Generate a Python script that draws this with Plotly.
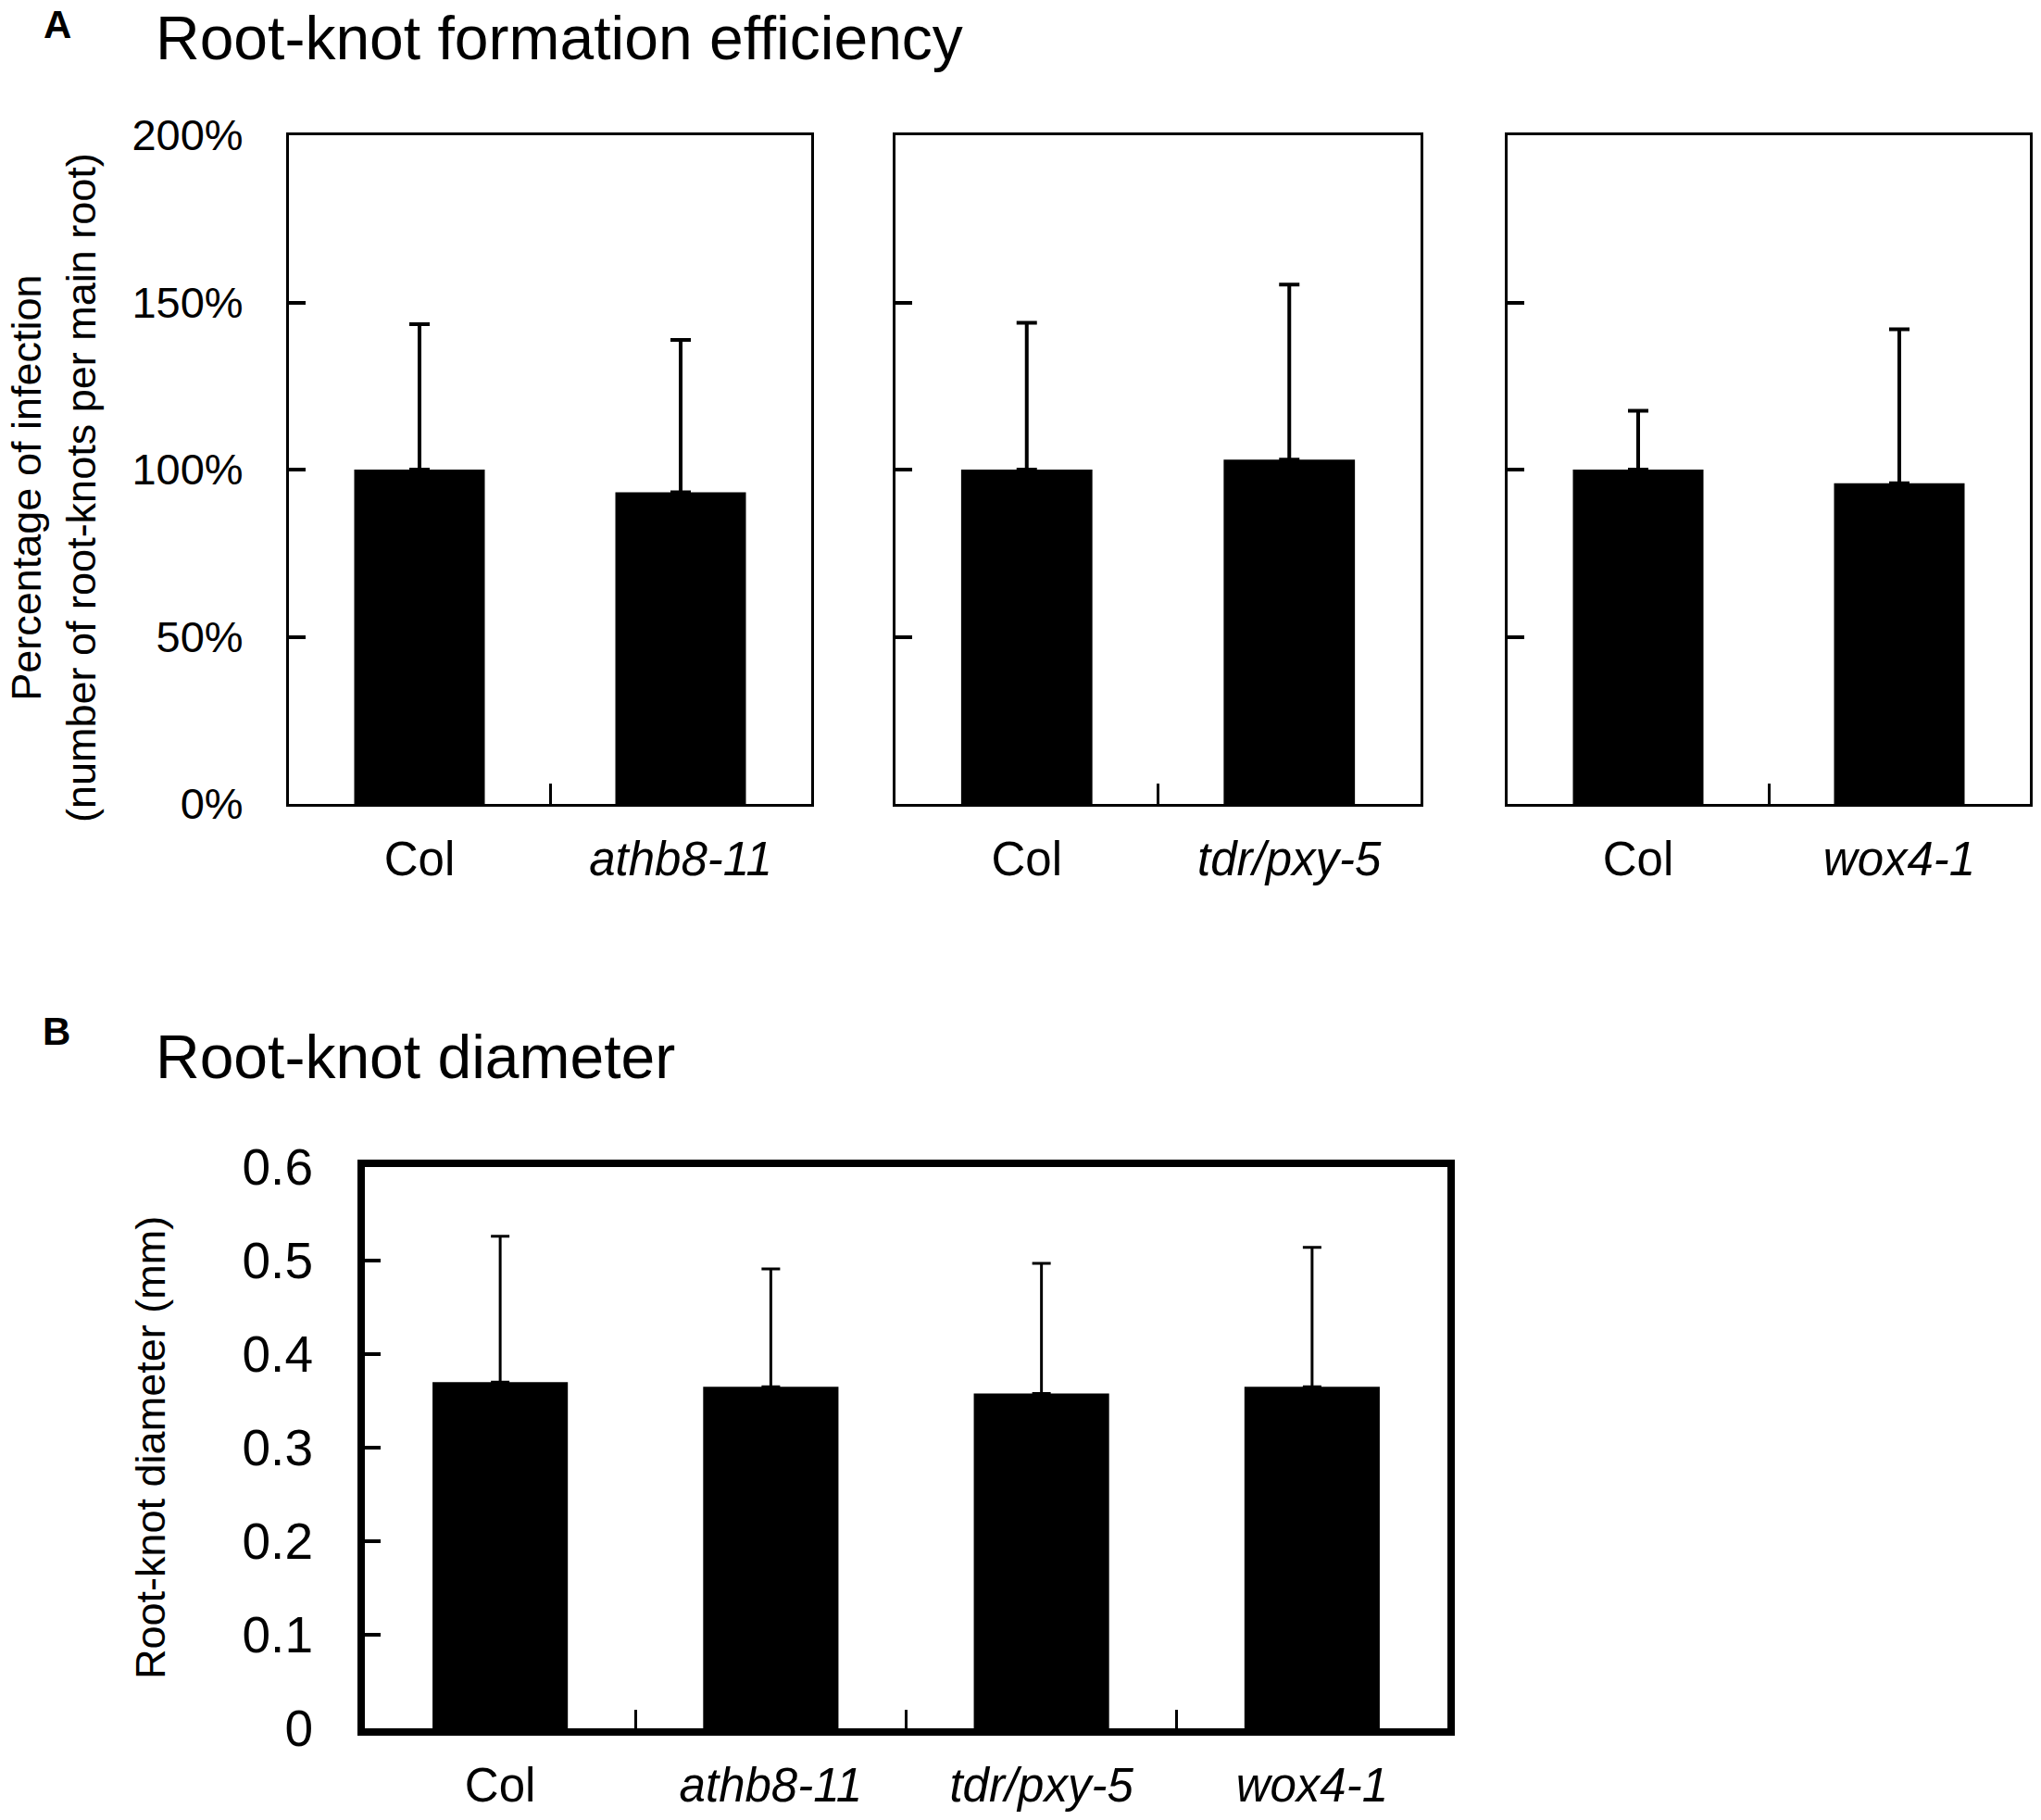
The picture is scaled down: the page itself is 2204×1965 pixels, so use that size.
import plotly.graph_objects as go

W, H = 2204, 1965

# panel A data (percentage of infection)
cats_a1 = ["Col", "athb8-11"]
cats_a2 = ["Col", "tdr/pxy-5"]
cats_a3 = ["Col", "wox4-1"]
mean_a1 = [100, 93.2]
sd_a1 = [43.5, 45.6]
mean_a2 = [100, 103.0]
sd_a2 = [43.9, 52.3]
mean_a3 = [100, 95.9]
sd_a3 = [17.6, 46.1]

# panel B data (root-knot diameter, mm)
cats_b = ["Col", "athb8-11", "tdr/pxy-5", "wox4-1"]
mean_b = [0.370, 0.365, 0.358, 0.365]
sd_b = [0.156, 0.126, 0.139, 0.149]

ticks_a = [0, 50, 100, 150, 200]
ticks_b = [0, 0.1, 0.2, 0.3, 0.4, 0.5, 0.6]

FONT = "Liberation Sans, Arial, sans-serif"


def label(c):
    # mutant names in italics
    return c if c == "Col" else "<i>" + c + "</i>"


def px(x):
    return x / W


def py(y):
    return 1 - y / H


fig = go.Figure()

panels = [
    (cats_a1, mean_a1, sd_a1, "x", "y"),
    (cats_a2, mean_a2, sd_a2, "x2", "y2"),
    (cats_a3, mean_a3, sd_a3, "x3", "y3"),
]
for cats, m, s, xa, ya in panels:
    fig.add_trace(go.Bar(
        x=cats, y=m, width=0.5, xaxis=xa, yaxis=ya,
        marker=dict(color="black", line=dict(width=0)),
        error_y=dict(type="data", array=s, arrayminus=[0] * len(s), symmetric=False,
                     color="black", thickness=4, width=11),
        showlegend=False))

fig.add_trace(go.Bar(
    x=cats_b, y=mean_b, width=0.5, xaxis="x4", yaxis="y4",
    marker=dict(color="black", line=dict(width=0)),
    error_y=dict(type="data", array=sd_b, arrayminus=[0] * len(sd_b), symmetric=False,
                 color="black", thickness=3, width=10),
    showlegend=False))

A_Y = [py(868), py(146)]
B_Y = [py(1866), py(1260)]
x_doms = [[px(312), px(876)], [px(967), px(1534)], [px(1628), px(2192)]]

layout = dict(
    width=W, height=H,
    margin=dict(l=0, r=0, t=0, b=0, autoexpand=False),
    paper_bgcolor="white", plot_bgcolor="white",
    font=dict(family=FONT, color="black"),
)

for i, (cats, _, _, xa, ya) in enumerate(panels):
    xk = "xaxis" if i == 0 else "xaxis%d" % (i + 1)
    yk = "yaxis" if i == 0 else "yaxis%d" % (i + 1)
    layout[xk] = dict(
        domain=x_doms[i], anchor=ya, type="category", automargin=False,
        tickvals=cats, ticktext=[label(c) for c in cats],
        tickson="boundaries", ticks="inside", ticklen=22, tickwidth=3, tickcolor="black",
        showline=True, linecolor="black", linewidth=3, mirror=True,
        showgrid=False, zeroline=False,
        tickfont=dict(size=51), ticklabelstandoff=13,
    )
    layout[yk] = dict(
        domain=A_Y, anchor=xa, range=[0, 200], automargin=False,
        tickvals=ticks_a, ticktext=["%d%%" % v for v in ticks_a], showticklabels=(i == 0),
        ticks="inside", ticklen=18, tickwidth=4, tickcolor="black",
        showline=True, linecolor="black", linewidth=3, mirror=True,
        showgrid=False, zeroline=False,
        tickfont=dict(size=47), ticklabelstandoff=37,
    )

layout["xaxis4"] = dict(
    domain=[px(394), px(1563)], anchor="y4", type="category", automargin=False,
    tickvals=cats_b, ticktext=[label(c) for c in cats_b],
    tickson="boundaries", ticks="inside", ticklen=20, tickwidth=3, tickcolor="black",
    showline=True, linecolor="black", linewidth=8, mirror=True,
    showgrid=False, zeroline=False,
    tickfont=dict(size=51), ticklabelstandoff=10,
)
layout["yaxis4"] = dict(
    domain=B_Y, anchor="x4", range=[0, 0.6], automargin=False,
    tickvals=ticks_b,
    ticks="inside", ticklen=17, tickwidth=4, tickcolor="black",
    showline=True, linecolor="black", linewidth=8, mirror=True,
    showgrid=False, zeroline=False,
    tickfont=dict(size=55), ticklabelstandoff=37,
)

fig.update_layout(**layout)

ann = [
    dict(text="<b>A</b>", x=px(45), y=py(27), xanchor="left", yanchor="middle", font=dict(size=42)),
    dict(text="Root-knot formation efficiency", x=px(166), y=py(2), xanchor="left", yanchor="top",
         font=dict(size=66)),
    dict(text="Percentage of infection<br>(number of root-knots per main root)", x=px(58), y=py(527),
         textangle=-90, xanchor="center", yanchor="middle", font=dict(size=45)),
    dict(text="<b>B</b>", x=px(44), y=py(1113), xanchor="left", yanchor="middle", font=dict(size=42)),
    dict(text="Root-knot diameter", x=px(166), y=py(1141), xanchor="left", yanchor="middle",
         font=dict(size=66)),
    dict(text="Root-knot diameter (mm)", x=px(162), y=py(1563), textangle=-90,
         xanchor="center", yanchor="middle", font=dict(size=45)),
]
for a in ann:
    a.update(xref="paper", yref="paper", showarrow=False)
fig.update_layout(annotations=ann)

fig.write_html("out.html", config={"displayModeBar": False},
               post_script="document.body.style.margin = '0';")
